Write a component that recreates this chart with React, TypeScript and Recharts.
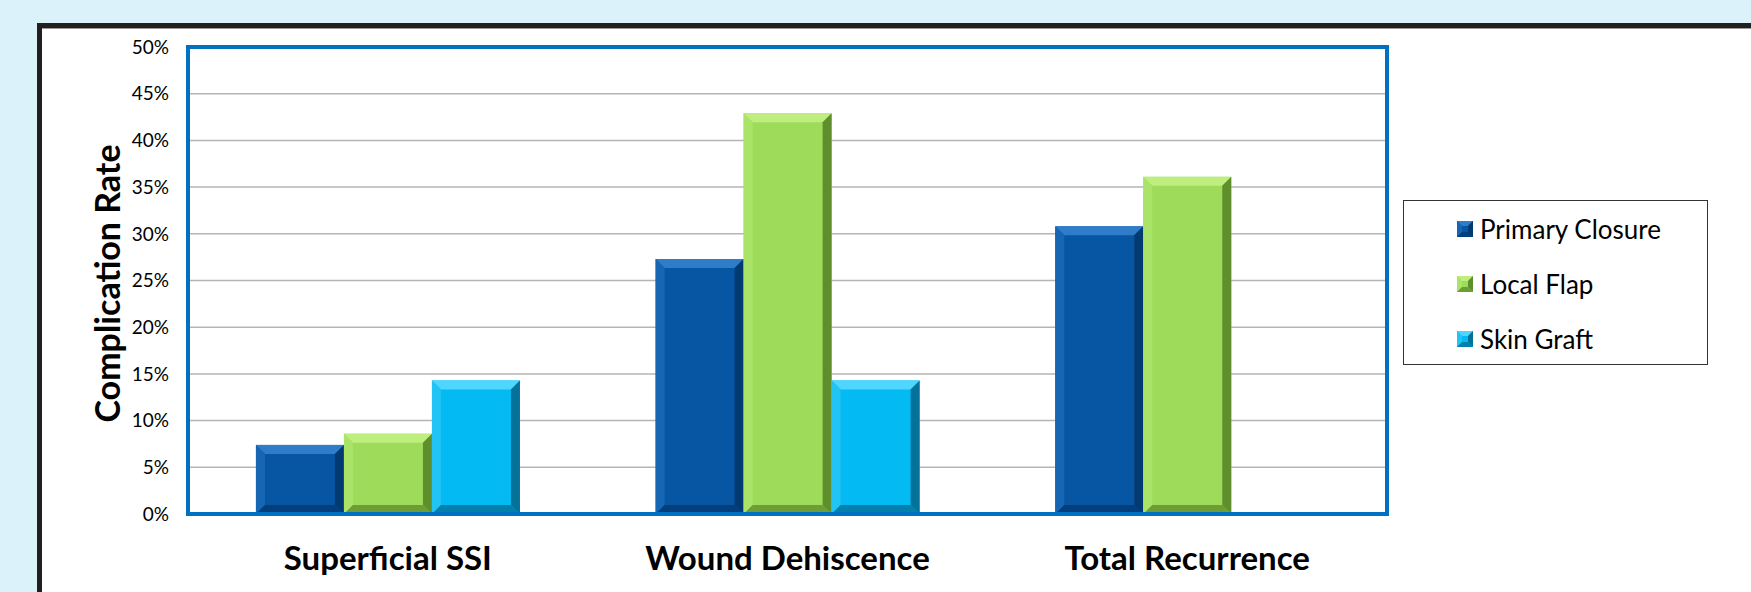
import { BarChart, Bar, XAxis, YAxis, CartesianGrid, Legend } from 'recharts';

const categories = ['Superficial SSI', 'Wound Dehiscence', 'Total Recurrence'];
const primaryClosure = [7.4, 27.3, 30.8];
const localFlap = [8.6, 42.9, 36.1];
const skinGraft = [14.3, 14.3, 0];
const yTicks = [0, 5, 10, 15, 20, 25, 30, 35, 40, 45, 50];

const series = [
  { key: 'primary', name: 'Primary Closure', fill: '#0656a3', light: '#2f7cc8', dark: '#033a72', left: '#1766b4' },
  { key: 'flap', name: 'Local Flap', fill: '#9edb5a', light: '#bdee7e', dark: '#5f8f2c', left: '#a9e368' },
  { key: 'graft', name: 'Skin Graft', fill: '#03baf3', light: '#4fd6ff', dark: '#05729a', left: '#22c3f5' },
];

const data = categories.map((name, i) => ({
  name,
  primary: primaryClosure[i],
  flap: localFlap[i],
  graft: skinGraft[i],
}));

const BLUE = '#0070c0';
const FONT = 'Lato, "Open Sans", sans-serif';
const frameLine = { stroke: BLUE, strokeWidth: 4, strokeLinecap: 'square' as const };

type Palette = { fill: string; light: string; dark: string; left: string };

function Bevel({ x, y, width, height, pal, b }: { x: number; y: number; width: number; height: number; pal: Palette; b: number }) {
  const bb = Math.min(b, width / 2, height / 2);
  const r = x + width;
  const btm = y + height;
  return (
    <g>
      <rect x={x} y={y} width={width} height={height} fill={pal.fill} />
      <polygon points={`${x},${y} ${r},${y} ${r - bb},${y + bb} ${x + bb},${y + bb}`} fill={pal.light} />
      <polygon points={`${x},${y} ${x + bb},${y + bb} ${x + bb},${btm - bb} ${x},${btm}`} fill={pal.left} />
      <polygon points={`${r},${y} ${r},${btm} ${r - bb},${btm - bb} ${r - bb},${y + bb}`} fill={pal.dark} />
      <polygon points={`${x},${btm} ${r},${btm} ${r - bb},${btm - bb} ${x + bb},${btm - bb}`} fill={pal.dark} opacity={0.8} />
    </g>
  );
}

function CategoryTick({ x, y, payload }: any) {
  return (
    <text x={x} y={y} dy={56} textAnchor="middle" fontFamily={FONT} fontWeight={700} fontSize={33} fill="#000">
      {payload.value}
    </text>
  );
}

function AxisTitle({ viewBox }: any) {
  const cx = viewBox.x + 80;
  const cy = viewBox.y + viewBox.height / 2 + 3;
  return (
    <text
      x={cx} y={cy}
      transform={`rotate(-90, ${cx}, ${cy})`}
      textAnchor="middle" dominantBaseline="central"
      fontFamily={FONT} fontWeight={700} fontSize={34} fill="#000"
    >
      Complication Rate
    </text>
  );
}

function LegendBox() {
  return (
    <div
      style={{
        boxSizing: 'border-box',
        width: 305,
        height: 165,
        border: '1.5px solid #333',
        background: '#fff',
        paddingLeft: 53,
        fontFamily: FONT,
      }}
    >
      {series.map((s) => (
        <div key={s.key} style={{ height: 55, display: 'flex', alignItems: 'center' }}>
          <svg width={16} height={16} style={{ marginRight: 7 }}>
            <Bevel x={0} y={0} width={16} height={16} pal={s} b={5} />
          </svg>
          <span style={{ fontSize: 26, color: '#000' }}>{s.name}</span>
        </div>
      ))}
    </div>
  );
}

export default function App() {
  return (
    <div style={{ position: 'absolute', left: 0, top: 0, width: 1751, height: 592, background: '#dcf2fb', overflow: 'hidden' }}>
      <div
        style={{
          position: 'absolute', left: 37, top: 23, right: -10, bottom: -10,
          background: '#fff',
          borderLeft: '5px solid #231f20',
          borderTop: '5px solid #231f20',
        }}
      />
      <div style={{ position: 'absolute', left: 42, top: 28, right: 0, height: 1, background: '#9a9a9a' }} />
      <div style={{ position: 'absolute', left: 0, top: 0 }}>
        <BarChart
          width={1751}
          height={592}
          data={data}
          margin={{ top: 46, right: 363, bottom: 0, left: 26 }}
          barCategoryGap="17%"
          barGap={0}
          style={{ fontFamily: FONT }}
        >
          <CartesianGrid vertical={false} stroke="#b5b5b5" strokeWidth={1.5} />
          <XAxis
            dataKey="name"
            height={78}
            tick={<CategoryTick />}
            tickLine={false}
            tickSize={0}
            tickMargin={0}
            axisLine={frameLine}
          />
          <XAxis
            xAxisId="top"
            dataKey="name"
            orientation="top"
            height={1}
            tick={false}
            tickLine={false}
            axisLine={frameLine}
          />
          <YAxis
            width={162}
            domain={[0, 50]}
            ticks={yTicks}
            interval={0}
            tickFormatter={(v: number) => `${v}%`}
            tick={{ fontSize: 19, fill: '#000', fontFamily: FONT }}
            tickLine={false}
            tickSize={0}
            tickMargin={19}
            axisLine={frameLine}
            label={<AxisTitle />}
          />
          <YAxis
            yAxisId="right"
            orientation="right"
            width={1}
            domain={[0, 50]}
            tick={false}
            tickLine={false}
            axisLine={frameLine}
          />
          <Legend
            layout="horizontal"
            verticalAlign="middle"
            align="center"
            wrapperStyle={{ left: 1403, top: 200, width: 305, height: 165 }}
            content={() => <LegendBox />}
          />
          {series.map((s) => (
            <Bar
              key={s.key}
              dataKey={s.key}
              name={s.name}
              fill={s.fill}
              isAnimationActive={false}
              shape={(p: any) => <Bevel x={p.x} y={p.y} width={p.width} height={p.height} pal={s} b={9} />}
            />
          ))}
        </BarChart>
      </div>
    </div>
  );
}
